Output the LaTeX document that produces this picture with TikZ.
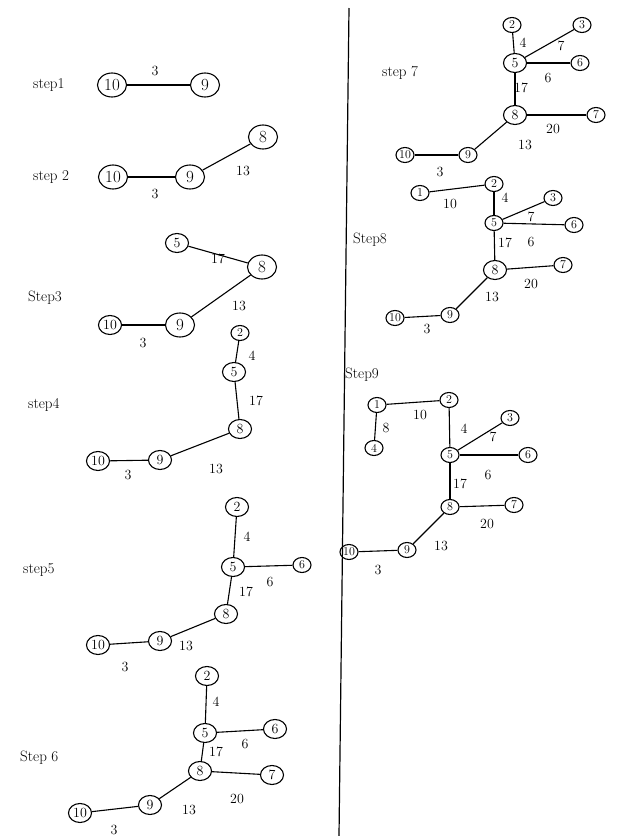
\documentclass[tikz,border=0pt]{standalone}
\usetikzlibrary{shapes.geometric}
\begin{document}
\begin{tikzpicture}[x=1pt,y=-1pt,
  vb/.style={draw, ellipse, line width=1.1pt, inner sep=0.3pt, minimum width=29pt, minimum height=24pt, font=\fontsize{17}{17}\selectfont},
  vm/.style={draw, ellipse, line width=1.1pt, inner sep=0.3pt, minimum width=23pt, minimum height=19pt, font=\fontsize{14}{14}\selectfont},
  vs/.style={draw, ellipse, line width=1.1pt, inner sep=0.2pt, minimum width=18pt, minimum height=15pt, font=\fontsize{12}{12}\selectfont},
  e/.style={line width=1.1pt},
  w/.style={inner sep=0pt, font=\fontsize{14}{14}\selectfont},
  lbl/.style={inner sep=0pt, anchor=west, font=\fontsize{15}{15}\selectfont}]
\useasboundingbox (0,0) rectangle (619,836);
\fill[white] (0,0) rectangle (619,836);
% divider
\coordinate (dtop) at (349,8);
\coordinate (dbot) at (339,836);
\draw[line width=1.2pt] (dtop) -- (dbot);

% ---------- step 1
\node[lbl] (t1) at (33,85) {step1};
\node[vb] (a10) at (112,85) {10};
\node[vb] (a9) at (205,85) {9};
\draw[e] (a10) -- (a9);
\node[w] (a3) at (155,71) {3};

% ---------- step 2
\node[lbl] (t2) at (33,177) {step 2};
\node[vb] (b10) at (113,177) {10};
\node[vb] (b9) at (190,177) {9};
\node[vb] (b8) at (263,137) {8};
\draw[e] (b10) -- (b9);
\draw[e] (b9) -- (b8);
\node[w] (b3) at (155,194) {3};
\node[w] (b13) at (243,171) {13};

% ---------- step 3
\node[lbl] (t3) at (28,298) {Step3};
\node[vm] (c5) at (177,243) {5};
\node[vb] (c8) at (262,267) {8};
\node[vb] (c9) at (180,325) {9};
\node[vm] (c10) at (110,325) {10};
\draw[e] (c5) -- (c8);
\draw[e] (c9) -- (c8);
\draw[e] (c10) -- (c9);
\node[w] (c17) at (218,259) {17};
\node[w] (c13) at (239,306) {13};
\node[w] (c3) at (143,343) {3};

% ---------- step 4
\node[lbl] (t4) at (28,405) {step4};
\node[vs] (d2) at (240,333) {2};
\node[vm] (d5) at (234,372) {5};
\node[vm] (d8) at (240,429) {8};
\node[vm] (d9) at (160,460) {9};
\node[vm] (d10) at (98,461) {10};
\draw[e] (d2) -- (d5);
\draw[e] (d5) -- (d8);
\draw[e] (d9) -- (d8);
\draw[e] (d10) -- (d9);
\node[w] (d4) at (252,356) {4};
\node[w] (d17) at (256,401) {17};
\node[w] (d13) at (216,469) {13};
\node[w] (d3) at (128,475) {3};

% ---------- step 5
\node[lbl] (t5) at (23,570) {step5};
\node[vm] (e2) at (237,507) {2};
\node[vm] (e5) at (233,567) {5};
\node[vs] (e6) at (302,565) {6};
\node[vm] (e8) at (226,614) {8};
\node[vm] (e9) at (160,641) {9};
\node[vm] (e10) at (98,645) {10};
\draw[e] (e2) -- (e5);
\draw[e] (e5) -- (e6);
\draw[e] (e5) -- (e8);
\draw[e] (e9) -- (e8);
\draw[e] (e10) -- (e9);
\node[w] (e4) at (247,537) {4};
\node[w] (e6l) at (270,582) {6};
\node[w] (e17) at (246,592) {17};
\node[w] (e13) at (186,646) {13};
\node[w] (e3) at (125,667) {3};

% ---------- step 6
\node[lbl] (t6) at (20,758) {Step 6};
\node[vm] (f2) at (207,676) {2};
\node[vm] (f5) at (205,733) {5};
\node[vm] (f6) at (275,729) {6};
\node[vm] (f8) at (200,771) {8};
\node[vm] (f7) at (272,775) {7};
\node[vm] (f9) at (150,805) {9};
\node[vm] (f10) at (80,813) {10};
\draw[e] (f2) -- (f5);
\draw[e] (f5) -- (f6);
\draw[e] (f5) -- (f8);
\draw[e] (f8) -- (f7);
\draw[e] (f9) -- (f8);
\draw[e] (f10) -- (f9);
\node[w] (f4) at (216,702) {4};
\node[w] (f6l) at (245,744) {6};
\node[w] (f17) at (216,752) {17};
\node[w] (f20) at (237,799) {20};
\node[w] (f13) at (189,810) {13};
\node[w] (f3) at (114,830) {3};

% ---------- step 7
\node[lbl] (t7) at (382,73) {step 7};
\node[vs] (g2) at (512,25) {2};
\node[vs] (g3) at (582,25) {3};
\node[vm] (g5) at (515,63) {5};
\node[vs] (g6) at (580,63) {6};
\node[vm] (g8) at (515,115) {8};
\node[vs] (g7) at (596,115) {7};
\node[vs] (g9) at (468,155) {9};
\node[vs] (g10) at (405,155) {10};
\draw[e] (g2) -- (g5);
\draw[e] (g5) -- (g3);
\draw[e] (g5) -- (g6);
\draw[e] (g5) -- (g8);
\draw[e] (g8) -- (g7);
\draw[e] (g9) -- (g8);
\draw[e] (g10) -- (g9);
\node[w] (g4) at (523,43) {4};
\node[w] (g7l) at (561,46) {7};
\node[w] (g6l) at (548,78) {6};
\node[w] (g17) at (521,88) {17};
\node[w] (g20) at (553,129) {20};
\node[w] (g13) at (525,145) {13};
\node[w] (g3l) at (440,172) {3};

% ---------- step 8
\node[lbl] (t8) at (353,240) {Step8};
\node[vs] (h1) at (420,193) {1};
\node[vs] (h2) at (494,184) {2};
\node[vs] (h5) at (494,223) {5};
\node[vs] (h3) at (553,198) {3};
\node[vs] (h6) at (574,225) {6};
\node[vm] (h8) at (495,270) {8};
\node[vs] (h7) at (563,265) {7};
\node[vs] (h9) at (450,315) {9};
\node[vs] (h10) at (395,318) {10};
\draw[e] (h1) -- (h2);
\draw[e] (h2) -- (h5);
\draw[e] (h5) -- (h3);
\draw[e] (h5) -- (h6);
\draw[e] (h5) -- (h8);
\draw[e] (h8) -- (h7);
\draw[e] (h9) -- (h8);
\draw[e] (h10) -- (h9);
\node[w] (h10l) at (450,204) {10};
\node[w] (h4) at (505,198) {4};
\node[w] (h7l) at (531,217) {7};
\node[w] (h6l) at (531,242) {6};
\node[w] (h17) at (505,243) {17};
\node[w] (h20) at (531,284) {20};
\node[w] (h13) at (492,297) {13};
\node[w] (h3l) at (427,329) {3};

% ---------- step 9
\node[lbl] (t9) at (345,375) {Step9};
\node[vs] (k1) at (377,405) {1};
\node[vs] (k2) at (449,400) {2};
\node[vs] (k4) at (374,448) {4};
\node[vs] (k3) at (510,418) {3};
\node[vs] (k5) at (450,455) {5};
\node[vs] (k6) at (528,455) {6};
\node[vs] (k8) at (450,507) {8};
\node[vs] (k7) at (514,505) {7};
\node[vs] (k9) at (407,550) {9};
\node[vs] (k10) at (349,552) {10};
\draw[e] (k1) -- (k2);
\draw[e] (k1) -- (k4);
\draw[e] (k2) -- (k5);
\draw[e] (k5) -- (k3);
\draw[e] (k5) -- (k6);
\draw[e] (k5) -- (k8);
\draw[e] (k8) -- (k7);
\draw[e] (k9) -- (k8);
\draw[e] (k10) -- (k9);
\node[w] (k10l) at (420,415) {10};
\node[w] (k8l) at (386,428) {8};
\node[w] (k4l) at (464,429) {4};
\node[w] (k7l) at (493,437) {7};
\node[w] (k6l) at (488,475) {6};
\node[w] (k17) at (460,484) {17};
\node[w] (k20) at (487,524) {20};
\node[w] (k13) at (441,546) {13};
\node[w] (k3l) at (378,570) {3};
\end{tikzpicture}
\end{document}
